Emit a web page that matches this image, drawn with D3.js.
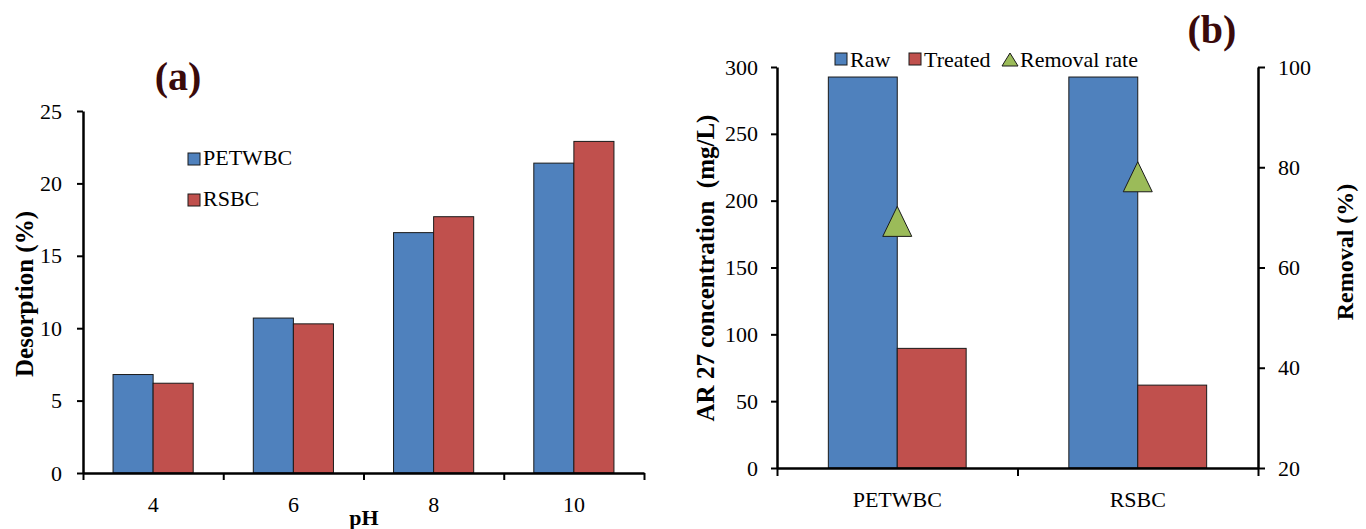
<!DOCTYPE html>
<html>
<head>
<meta charset="utf-8">
<script src="https://cdn.jsdelivr.net/npm/d3@7"></script>
<style>
  body { margin: 0; background: #fff; }
  svg { display: block; }
</style>
</head>
<body>
<svg id="chart" width="1366" height="529" font-family="'Liberation Serif', 'Times New Roman', serif"></svg>
<script>
// panel (a) data
var phLabels = ["4", "6", "8", "10"];
var desorpSeries = ["PETWBC", "RSBC"];
var desorpPET = [6.8, 10.7, 16.6, 21.4];
var desorpRSBC = [6.2, 10.3, 17.7, 22.9];
var ticksA = [0, 5, 10, 15, 20, 25];

// panel (b) data
var adsorbents = ["PETWBC", "RSBC"];
var concSeries = ["Raw", "Treated"];
var rawConc = [292.5, 292.5];
var treatedConc = [89.5, 62.0];
var removalRate = [69.2, 78.1];
var ticksBLeft = [0, 50, 100, 150, 200, 250, 300];
var ticksBRight = [20, 40, 60, 80, 100];

const serif = "'Liberation Serif', 'Times New Roman', serif";
const blue = "#4f81bd", red = "#c0504d", green = "#9bbb59", edge = "#1a1a1a";
const titleColor = "#3a0a0a";
const svg = d3.select("#chart");

// d3 axes set sans-serif 10px on their group, so put our own font back
function styleAxis(g) {
  g.attr("font-family", serif).attr("font-size", 22);
  g.select(".domain").attr("stroke", "#000").attr("stroke-width", 2.5);
  g.selectAll(".tick line").attr("stroke", "#000").attr("stroke-width", 2);
  g.selectAll(".tick text").attr("fill", "#000");
}

// ---------- panel (a) ----------
const ga = svg.append("g");
const yA = d3.scaleLinear().domain([0, 25]).range([473, 111]);
const x0A = d3.scaleBand().domain(phLabels).range([83, 644]).padding(0);
const x1A = d3.scaleBand().domain(desorpSeries).range([0, x0A.bandwidth()])
  .paddingInner(0).paddingOuter(0.75);
const colorA = d3.scaleOrdinal().domain(desorpSeries).range([blue, red]);

const rowsA = phLabels.map((p, i) => ({ ph: p, vals: [desorpPET[i], desorpRSBC[i]] }));

ga.selectAll("g.grp")
  .data(rowsA)
  .enter()
  .append("g")
    .attr("class", "grp")
    .attr("transform", d => "translate(" + x0A(d.ph) + ",0)")
  .selectAll("rect")
  .data(d => d.vals.map((v, j) => ({ s: desorpSeries[j], v: v })))
  .enter()
  .append("rect")
    .attr("x", d => x1A(d.s))
    .attr("y", d => yA(d.v))
    .attr("width", x1A.bandwidth())
    .attr("height", d => yA(0) - yA(d.v))
    .attr("fill", d => colorA(d.s))
    .attr("stroke", edge)
    .attr("stroke-width", 1);

// y axis
ga.append("g")
  .attr("transform", "translate(83,0)")
  .call(d3.axisLeft(yA).tickValues(ticksA).tickSize(6).tickSizeOuter(0).tickPadding(15))
  .call(styleAxis);

// x axis: tick marks at band edges, labels at band centres
const edgeA = d3.scaleLinear().domain([0, phLabels.length]).range(x0A.range());
ga.append("g")
  .attr("transform", "translate(0,473)")
  .call(d3.axisBottom(edgeA).tickValues(d3.range(phLabels.length + 1)).tickSize(7).tickSizeOuter(0).tickFormat(""))
  .call(styleAxis);
ga.append("g")
  .attr("transform", "translate(0,473)")
  .call(d3.axisBottom(x0A).tickSize(0).tickPadding(23))
  .call(styleAxis)
  .call(g => g.select(".domain").remove());

// titles
ga.append("text")
  .attr("transform", "translate(24,294) rotate(-90)")
  .attr("text-anchor", "middle")
  .attr("dominant-baseline", "central")
  .attr("font-weight", "bold")
  .attr("font-size", 25)
  .text("Desorption (%)");
ga.append("text")
  .attr("x", 364).attr("y", 525)
  .attr("text-anchor", "middle")
  .attr("font-weight", "bold")
  .attr("font-size", 22)
  .text("pH");
ga.append("text")
  .attr("x", 178).attr("y", 90)
  .attr("text-anchor", "middle")
  .attr("font-weight", "bold")
  .attr("font-size", 40)
  .attr("fill", titleColor)
  .text("(a)");

// legend (a)
const legA = ga.selectAll("g.leg")
  .data(desorpSeries)
  .enter()
  .append("g")
    .attr("class", "leg")
    .attr("transform", (d, i) => "translate(188," + (153 + i * 41) + ")");
legA.append("rect")
  .attr("width", 12).attr("height", 12)
  .attr("fill", d => colorA(d))
  .attr("stroke", edge).attr("stroke-width", 1);
legA.append("text")
  .attr("x", 15).attr("y", 12)
  .attr("font-size", 22)
  .text(d => d);

// ---------- panel (b) ----------
const gb = svg.append("g");
const yB = d3.scaleLinear().domain([0, 300]).range([468, 67]);
const yR = d3.scaleLinear().domain([20, 100]).range([468, 67]);
const x0B = d3.scaleBand().domain(adsorbents).range([777, 1258]).padding(0);
const x1B = d3.scaleBand().domain(concSeries).range([0, x0B.bandwidth()])
  .paddingInner(0).paddingOuter(0.745);
const colorB = d3.scaleOrdinal().domain(concSeries).range([blue, red]);

const rowsB = adsorbents.map((a, i) => ({ name: a, vals: [rawConc[i], treatedConc[i]], rem: removalRate[i] }));

gb.selectAll("g.grp")
  .data(rowsB)
  .enter()
  .append("g")
    .attr("class", "grp")
    .attr("transform", d => "translate(" + x0B(d.name) + ",0)")
  .selectAll("rect")
  .data(d => d.vals.map((v, j) => ({ s: concSeries[j], v: v })))
  .enter()
  .append("rect")
    .attr("x", d => x1B(d.s))
    .attr("y", d => yB(d.v))
    .attr("width", x1B.bandwidth())
    .attr("height", d => yB(0) - yB(d.v))
    .attr("fill", d => colorB(d.s))
    .attr("stroke", edge)
    .attr("stroke-width", 1);

// removal rate markers (triangles)
function triangle(cx, cy, w, h) {
  return "M" + (cx - w / 2) + "," + (cy + h / 2) +
         "L" + cx + "," + (cy - h / 2) +
         "L" + (cx + w / 2) + "," + (cy + h / 2) + "Z";
}
gb.selectAll("path.rem")
  .data(rowsB)
  .enter()
  .append("path")
    .attr("class", "rem")
    .attr("d", d => triangle(x0B(d.name) + x0B.bandwidth() / 2, yR(d.rem), 29, 30))
    .attr("fill", green)
    .attr("stroke", edge)
    .attr("stroke-width", 1);

// axes
gb.append("g")
  .attr("transform", "translate(777,0)")
  .call(d3.axisLeft(yB).tickValues(ticksBLeft).tickSize(6).tickSizeOuter(0).tickPadding(13))
  .call(styleAxis);
gb.append("g")
  .attr("transform", "translate(1258,0)")
  .call(d3.axisRight(yR).tickValues(ticksBRight).tickSize(7).tickSizeOuter(0).tickPadding(13))
  .call(styleAxis);
const edgeB = d3.scaleLinear().domain([0, adsorbents.length]).range(x0B.range());
gb.append("g")
  .attr("transform", "translate(0,468)")
  .call(d3.axisBottom(edgeB).tickValues(d3.range(adsorbents.length + 1)).tickSize(8).tickSizeOuter(0).tickFormat(""))
  .call(styleAxis);
gb.append("g")
  .attr("transform", "translate(0,468)")
  .call(d3.axisBottom(x0B).tickSize(0).tickPadding(23))
  .call(styleAxis)
  .call(g => g.select(".domain").remove());

// titles
gb.append("text")
  .attr("transform", "translate(705,268) rotate(-90)")
  .attr("text-anchor", "middle")
  .attr("dominant-baseline", "central")
  .attr("font-weight", "bold")
  .attr("font-size", 25)
  .style("white-space", "pre")
  .text("AR 27 concentration  (mg/L)");
gb.append("text")
  .attr("transform", "translate(1345,252) rotate(-90)")
  .attr("text-anchor", "middle")
  .attr("dominant-baseline", "central")
  .attr("font-weight", "bold")
  .attr("font-size", 24)
  .text("Removal (%)");
gb.append("text")
  .attr("x", 1212).attr("y", 43)
  .attr("text-anchor", "middle")
  .attr("font-weight", "bold")
  .attr("font-size", 40)
  .attr("fill", titleColor)
  .text("(b)");

// legend (b)
const legItems = [
  { label: "Raw", color: blue, shape: "rect", x: 835 },
  { label: "Treated", color: red, shape: "rect", x: 909 },
  { label: "Removal rate", color: green, shape: "tri", x: 1002 }
];
const legB = gb.selectAll("g.leg")
  .data(legItems)
  .enter()
  .append("g")
    .attr("class", "leg")
    .attr("transform", d => "translate(" + d.x + ",53)");
legB.filter(d => d.shape === "rect").append("rect")
  .attr("width", 12).attr("height", 12)
  .attr("fill", d => d.color)
  .attr("stroke", edge).attr("stroke-width", 1);
legB.filter(d => d.shape === "tri").append("path")
  .attr("d", triangle(8, 6.5, 16, 13))
  .attr("fill", d => d.color)
  .attr("stroke", edge).attr("stroke-width", 1);
legB.append("text")
  .attr("x", d => d.shape === "tri" ? 18 : 15)
  .attr("y", 14)
  .attr("font-size", 22)
  .text(d => d.label);
</script>
</body>
</html>
